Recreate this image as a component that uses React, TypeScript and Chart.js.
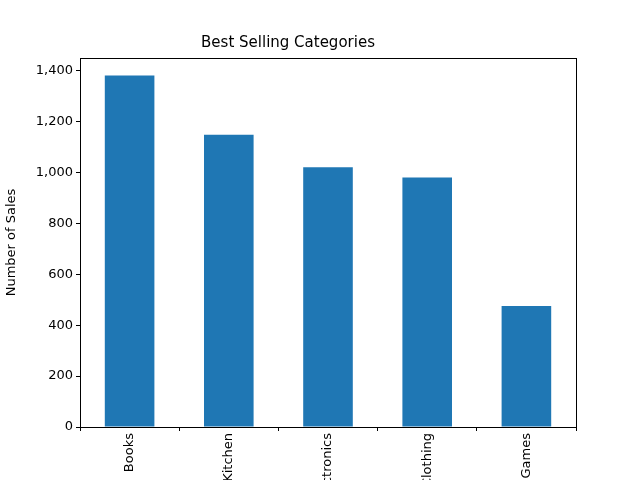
import { useRef, useEffect } from 'react';
import Chart from 'chart.js/auto';

const categories = ['Books', 'Home & Kitchen', 'Electronics', 'Clothing', 'Toys & Games'];
const sales = [1380, 1148, 1020, 980, 475];
const yTicks = [0, 200, 400, 600, 800, 1000, 1200, 1400];

const frame = {
  id: 'frame',
  afterDraw(chart) {
    const { ctx, chartArea: a } = chart;
    ctx.save();
    ctx.strokeStyle = '#000';
    ctx.lineWidth = 1;
    ctx.strokeRect(Math.round(a.left) + 0.5, Math.round(a.top) + 0.5, Math.round(a.right - a.left), Math.round(a.bottom - a.top));
    ctx.restore();
  },
};

const App = () => {
  const canvasRef = useRef(null);

  useEffect(() => {
    document.body.style.margin = '0';
    if (!canvasRef.current) return;
    const font = { family: 'DejaVu Sans', size: 13 };
    const chart = new Chart(canvasRef.current, {
      type: 'bar',
      data: {
        labels: categories,
        datasets: [{
          data: sales,
          backgroundColor: '#1f77b4',
          barPercentage: 0.5,
          categoryPercentage: 1,
        }],
      },
      options: {
        animation: false,
        responsive: false,
        layout: { padding: { left: 0, right: 64, top: 0, bottom: 0 } },
        plugins: {
          legend: { display: false },
          tooltip: { enabled: false },
          title: {
            display: true,
            text: 'Best Selling Categories',
            color: '#000',
            font: { family: 'DejaVu Sans', size: 15, weight: 'normal' },
            padding: { top: 34, bottom: 6 },
          },
        },
        scales: {
          x: {
            grid: { display: true, drawOnChartArea: false, tickLength: 4, color: '#000' },
            border: { display: false },
            ticks: { color: '#000', font, maxRotation: 90, minRotation: 90, padding: 2, autoSkip: false },
            afterFit: (s) => { s.height = 53; },
          },
          y: {
            min: 0,
            max: 1449,
            grid: { display: true, drawOnChartArea: false, tickLength: 4, color: '#000' },
            border: { display: false },
            ticks: { color: '#000', font, stepSize: 200, padding: 3 },
            afterBuildTicks: (s) => { s.ticks = yTicks.map((v) => ({ value: v })); },
            title: { display: true, text: 'Number of Sales', color: '#000', font, padding: 4 },
            afterFit: (s) => { s.width = 80; },
          },
        },
      },
      plugins: [frame],
    });
    return () => chart.destroy();
  }, []);

  return (
    <div style={{ position: 'absolute', left: 0, top: 0, width: 640, height: 480, background: '#fff' }}>
      <canvas ref={canvasRef} width={640} height={480} />
    </div>
  );
};

export default App;
